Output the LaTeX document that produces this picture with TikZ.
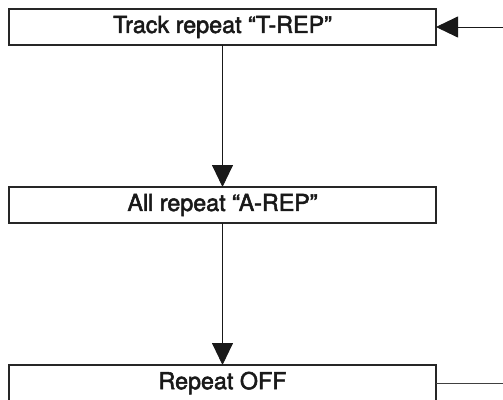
\documentclass[tikz,border=0pt]{standalone}
\usepackage{fontspec}
\setmainfont{TeX Gyre Heros}[BoldFont={TeX Gyre Heros}, BoldFeatures={FakeBold=2.2}]
\usetikzlibrary{arrows.meta,positioning}

\begin{document}
\begin{tikzpicture}[
      x=1pt, y=-1pt,
      mode/.style={rectangle, draw=black!85, line width=1.2pt, minimum width=427pt, minimum height=36pt, inner sep=0pt, outer sep=0pt, font=\fontsize{23.3}{27}\selectfont\bfseries, text=black!90},
      pointer/.style={line width=0.9pt, draw=black!90, -{Triangle[length=22pt,width=21pt]}},
      plainline/.style={line width=0.9pt, draw=black!75}
      ]

      % fix the page to the size of the reference
      \useasboundingbox (0,0) rectangle (503,399);

      % the three repeat modes, one under the other
      \node[mode] (trep) at (222.5,27) {Track repeat “T-REP”};
      \node[mode, below=142pt of trep] (arep) {All repeat “A-REP”};
      \node[mode, below=142pt of arep] (off) {Repeat OFF};

      % loop ends leave the picture on the right
      \coordinate (loopin) at (503,27);
      \coordinate (loopout) at (503,383);

      % Now the pointers
      \path (trep.south) edge [pointer] (arep.north);
      \path (arep.south) edge [pointer] (off.north);
      \path (loopin) edge [pointer] (trep.east);
      \path (off.east) edge [plainline] (loopout);
    \end{tikzpicture}
\end{document}
